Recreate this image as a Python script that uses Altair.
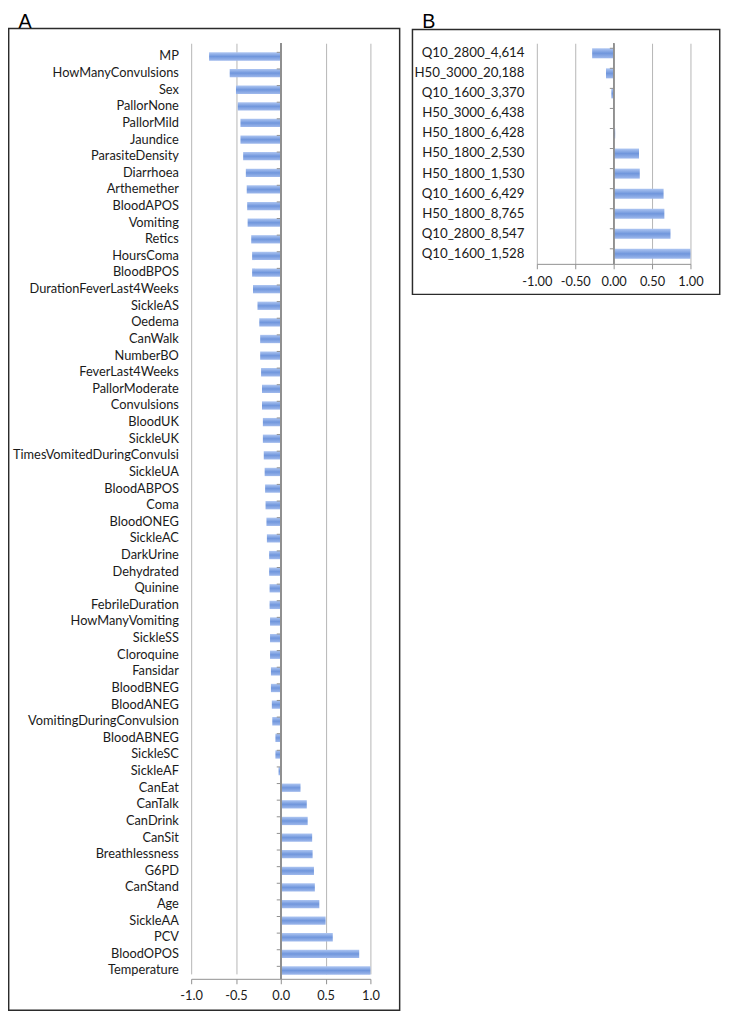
import altair as alt
import pandas as pd

names_a = ["MP", "HowManyConvulsions", "Sex\u00a0", "PallorNone", "PallorMild", "Jaundice",
           "ParasiteDensity", "Diarrhoea", "Arthemether", "BloodAPOS", "Vomiting", "Retics",
           "HoursComa", "BloodBPOS", "DurationFeverLast4Weeks", "SickleAS", "Oedema", "CanWalk",
           "NumberBO", "FeverLast4Weeks", "PallorModerate", "Convulsions", "BloodUK", "SickleUK",
           "TimesVomitedDuringConvulsi", "SickleUA", "BloodABPOS", "Coma", "BloodONEG", "SickleAC",
           "DarkUrine", "Dehydrated\u00a0", "Quinine", "FebrileDuration", "HowManyVomiting", "SickleSS",
           "Cloroquine", "Fansidar", "BloodBNEG", "BloodANEG", "VomitingDuringConvulsion",
           "BloodABNEG", "SickleSC", "SickleAF", "CanEat", "CanTalk", "CanDrink", "CanSit",
           "Breathlessness", "G6PD", "CanStand", "Age", "SickleAA", "PCV", "BloodOPOS", "Temperature"]
values_a = [-0.80, -0.57, -0.50, -0.48, -0.45, -0.45, -0.42, -0.39, -0.38, -0.375, -0.37, -0.33,
            -0.32, -0.32, -0.31, -0.26, -0.24, -0.23, -0.23, -0.22, -0.21, -0.21, -0.20, -0.20,
            -0.19, -0.18, -0.175, -0.17, -0.16, -0.155, -0.13, -0.13, -0.125, -0.125, -0.12, -0.12,
            -0.12, -0.11, -0.11, -0.10, -0.095, -0.06, -0.06, -0.025, 0.22, 0.29, 0.30, 0.35,
            0.355, 0.37, 0.38, 0.43, 0.50, 0.58, 0.875, 1.0]
ticks_a = [-1.0, -0.5, 0.0, 0.5, 1.0]

names_b = ["Q10_2800_4,614", "H50_3000_20,188", "Q10_1600_3,370", "H50_3000_6,438",
           "H50_1800_6,428", "H50_1800_2,530", "H50_1800_1,530", "Q10_1600_6,429",
           "H50_1800_8,765", "Q10_2800_8,547", "Q10_1600_1,528"]
values_b = [-0.28, -0.10, -0.03, -0.005, 0.02, 0.33, 0.34, 0.65, 0.66, 0.74, 1.0]
ticks_b = [-1.0, -0.5, 0.0, 0.5, 1.0]

FONT = "Lato"
GRID = "#b5b5b5"
AXIS = "#8f8f8f"
TXT = "#1a1a1a"

gradient = alt.Gradient(
    gradient="linear",
    stops=[alt.GradientStop(color="#aec6f2", offset=0),
           alt.GradientStop(color="#7096dc", offset=0.5),
           alt.GradientStop(color="#9fb9ec", offset=1)],
    x1=0, x2=0, y1=0, y2=1)


def panel(names, values, ticks, fmt, width, height, yrange, frame, letter, letter_pos,
          label_size, tick_label_size, tick_len, xlabel_pad):
    df = pd.DataFrame({"name": names, "value": values})
    one = pd.DataFrame({"k": [0]})
    yscale = alt.Scale(paddingInner=0.5, paddingOuter=0.25, range=yrange)
    xscale = alt.Scale(domain=[-1, 1], nice=False, zero=False)
    yaxis = alt.Axis(domain=False, ticks=False, labelPadding=13, title=None,
                     labelFont=FONT, labelFontSize=label_size,
                     labelColor=TXT, labelLimit=400)
    xaxis = alt.Axis(values=ticks, format=fmt, grid=True, gridColor=GRID, title=None,
                     gridWidth=1, domainColor=AXIS, tickColor=AXIS,
                     tickSize=5, labelPadding=xlabel_pad, labelFont=FONT,
                     labelFontSize=tick_label_size, labelColor=TXT,
                     labelFlush=False,
                     labelExpr="replace(datum.label, '\u2212', '-')")

    frame_rect = alt.Chart(one).mark_rect(
        fill="white", fillOpacity=0, stroke="#2b2b2b", strokeWidth=1.5
    ).encode(x=alt.value(frame[0]), x2=alt.value(frame[1]),
             y=alt.value(frame[2]), y2=alt.value(frame[3]))

    bars = alt.Chart(df).mark_bar(color=gradient).encode(
        y=alt.Y("name:N", sort=None, title=None, scale=yscale, axis=yaxis),
        x=alt.X("value:Q", title=None, scale=xscale, axis=xaxis),
    )

    zero_line = alt.Chart(df).mark_rule(color=AXIS, strokeWidth=1).encode(
        x=alt.XDatum(0, scale=xscale, axis=xaxis), y=alt.value(0), y2=alt.value(height))

    cat_ticks = alt.Chart(df).mark_rule(color=AXIS, strokeWidth=1).encode(
        y=alt.Y("name:N", sort=None, title=None, bandPosition=0, scale=yscale, axis=yaxis),
        x=alt.XDatum(0, scale=xscale, axis=xaxis), x2=alt.X2Datum(-tick_len))

    letter_txt = alt.Chart(one).mark_text(
        text=letter, align="left", baseline="top", fontSize=20,
        font="Liberation Sans", color="#000000"
    ).encode(x=alt.value(letter_pos[0]), y=alt.value(letter_pos[1]))

    return alt.layer(frame_rect, bars, zero_line, cat_ticks, letter_txt).properties(
        width=width, height=height)


chart_a = panel(names_a, values_a, ticks_a, ".1f", 182, 950, [5.0, 950],
                frame=(-185.3, 211.7, -15, 982), letter="A", letter_pos=(-175.3, -31.7),
                label_size=13, tick_label_size=13, tick_len=0.045, xlabel_pad=6)
chart_b = panel(names_b, values_b, ticks_b, ".2f", 156, 224, [0, 224],
                frame=(-126.3, 185.7, -14, 255), letter="B", letter_pos=(-116.3, -31.7),
                label_size=13.5, tick_label_size=13, tick_len=0.05, xlabel_pad=7)

chart = alt.hconcat(chart_a, chart_b, spacing=10).properties(
    padding={"left": -1, "right": 0, "top": -4, "bottom": 0},
    autosize=alt.AutoSizeParams(type="pad")
).configure_view(stroke=None)

chart.save("out.html", embed_options={"renderer": "svg", "actions": False})
